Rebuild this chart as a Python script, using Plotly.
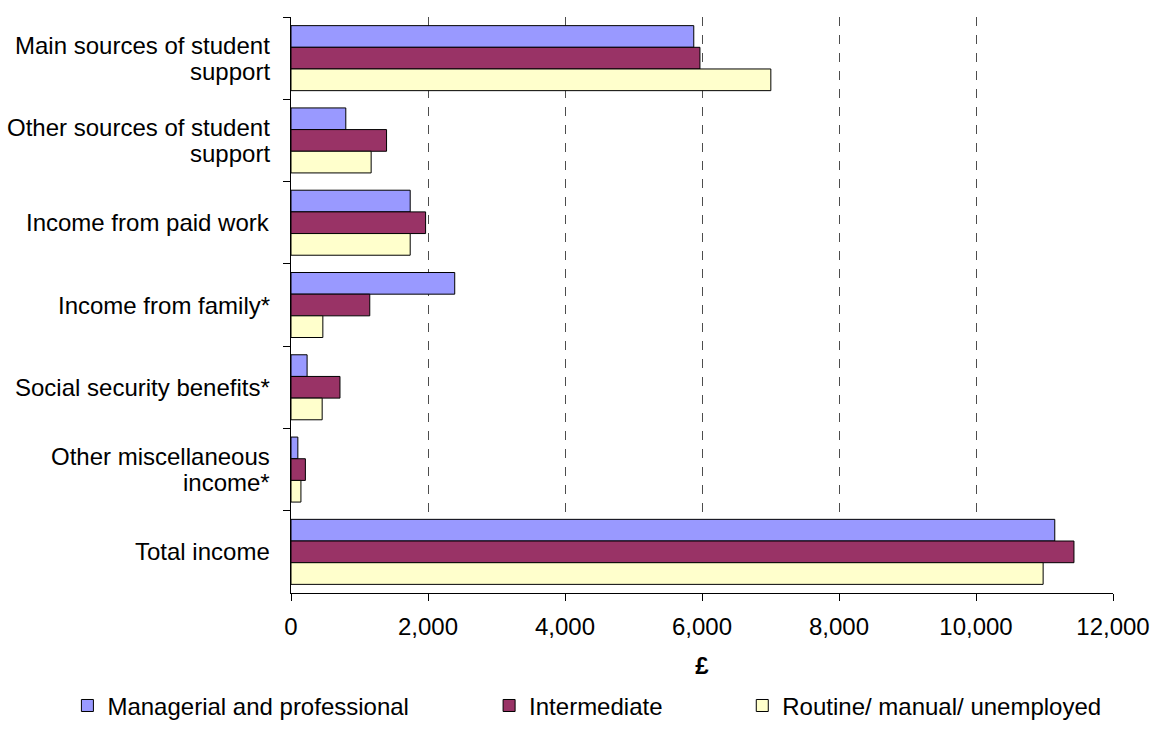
import plotly.graph_objects as go

categories = [
    "Main sources of student<br>support",
    "Other sources of student<br>support",
    "Income from paid work",
    "Income from family*",
    "Social security benefits*",
    "Other miscellaneous<br>income*",
    "Total income",
]
series_names = ["Managerial and professional", "Intermediate", "Routine/ manual/ unemployed"]
managerial = [5880, 800, 1740, 2390, 235, 100, 11150]
intermediate = [5970, 1395, 1965, 1150, 715, 210, 11430]
routine = [7005, 1170, 1740, 465, 455, 145, 10980]
x_ticks = [0, 2000, 4000, 6000, 8000, 10000, 12000]

colors = ["#9999FF", "#993366", "#FFFFCC"]
FONT = "Liberation Sans, Arial, sans-serif"
FS = 24

fig = go.Figure()
legend_ids = ["legend", "legend2", "legend3"]
for name, vals, col, lg in zip(series_names, [managerial, intermediate, routine], colors, legend_ids):
    fig.add_trace(go.Bar(
        y=categories, x=vals, name=name, orientation="h",
        marker=dict(color=col, line=dict(color="#000000", width=1)),
        legend=lg,
    ))

# category labels as centred multi-line annotations (one per line for tight spacing)
LINE_H = 26
for c in categories:
    lines = c.split("<br>")
    n = len(lines)
    for i, line in enumerate(lines):
        fig.add_annotation(
            x=0, xref="paper", xanchor="right", xshift=-19,
            y=c, yref="y", yanchor="middle",
            yshift=((n - 1) / 2 - i) * LINE_H,
            text=line, showarrow=False, align="center",
            font=dict(family=FONT, size=FS, color="#000000"),
        )

leg_common = dict(orientation="h", yanchor="middle", y=-0.196, xanchor="left",
                  bgcolor="rgba(0,0,0,0)", borderwidth=0,
                  font=dict(family=FONT, size=FS, color="#000000"),
                  itemwidth=30, tracegroupgap=0)

fig.update_layout(
    width=1151, height=735,
    margin=dict(l=291, r=38, t=17, b=142, autoexpand=False),
    plot_bgcolor="white", paper_bgcolor="white",
    font=dict(family=FONT, size=FS, color="#000000"),
    barmode="group", bargap=0.21, bargroupgap=0,
    showlegend=True,
    legend=dict(x=-0.272, **leg_common),
    legend2=dict(x=0.241, **leg_common),
    legend3=dict(x=0.549, **leg_common),
    xaxis=dict(
        range=[0, 12000], tickvals=x_ticks, tickformat=",",
        showgrid=True, gridcolor="#4d4d4d", griddash="dash", gridwidth=1,
        showline=True, linecolor="#000000", linewidth=1,
        ticks="outside", ticklen=7, tickcolor="#000000",
        ticklabelstandoff=5,
        zeroline=False, automargin=False,
        tickfont=dict(family=FONT, size=FS, color="#000000"),
        title=dict(text="<b>£</b>", font=dict(family=FONT, size=FS, color="#000000"), standoff=18),
    ),
    yaxis=dict(
        type="category", categoryorder="array", categoryarray=categories,
        range=[6.5, -0.5],
        showticklabels=False, tickson="boundaries",
        ticks="outside", ticklen=7, tickcolor="#000000",
        showline=True, linecolor="#000000", linewidth=1,
        showgrid=False, zeroline=False, automargin=False,
    ),
)

fig.write_html(
    "out.html",
    config={"displayModeBar": False},
    post_script="document.body.style.margin='0px';document.body.style.overflow='hidden';",
)
